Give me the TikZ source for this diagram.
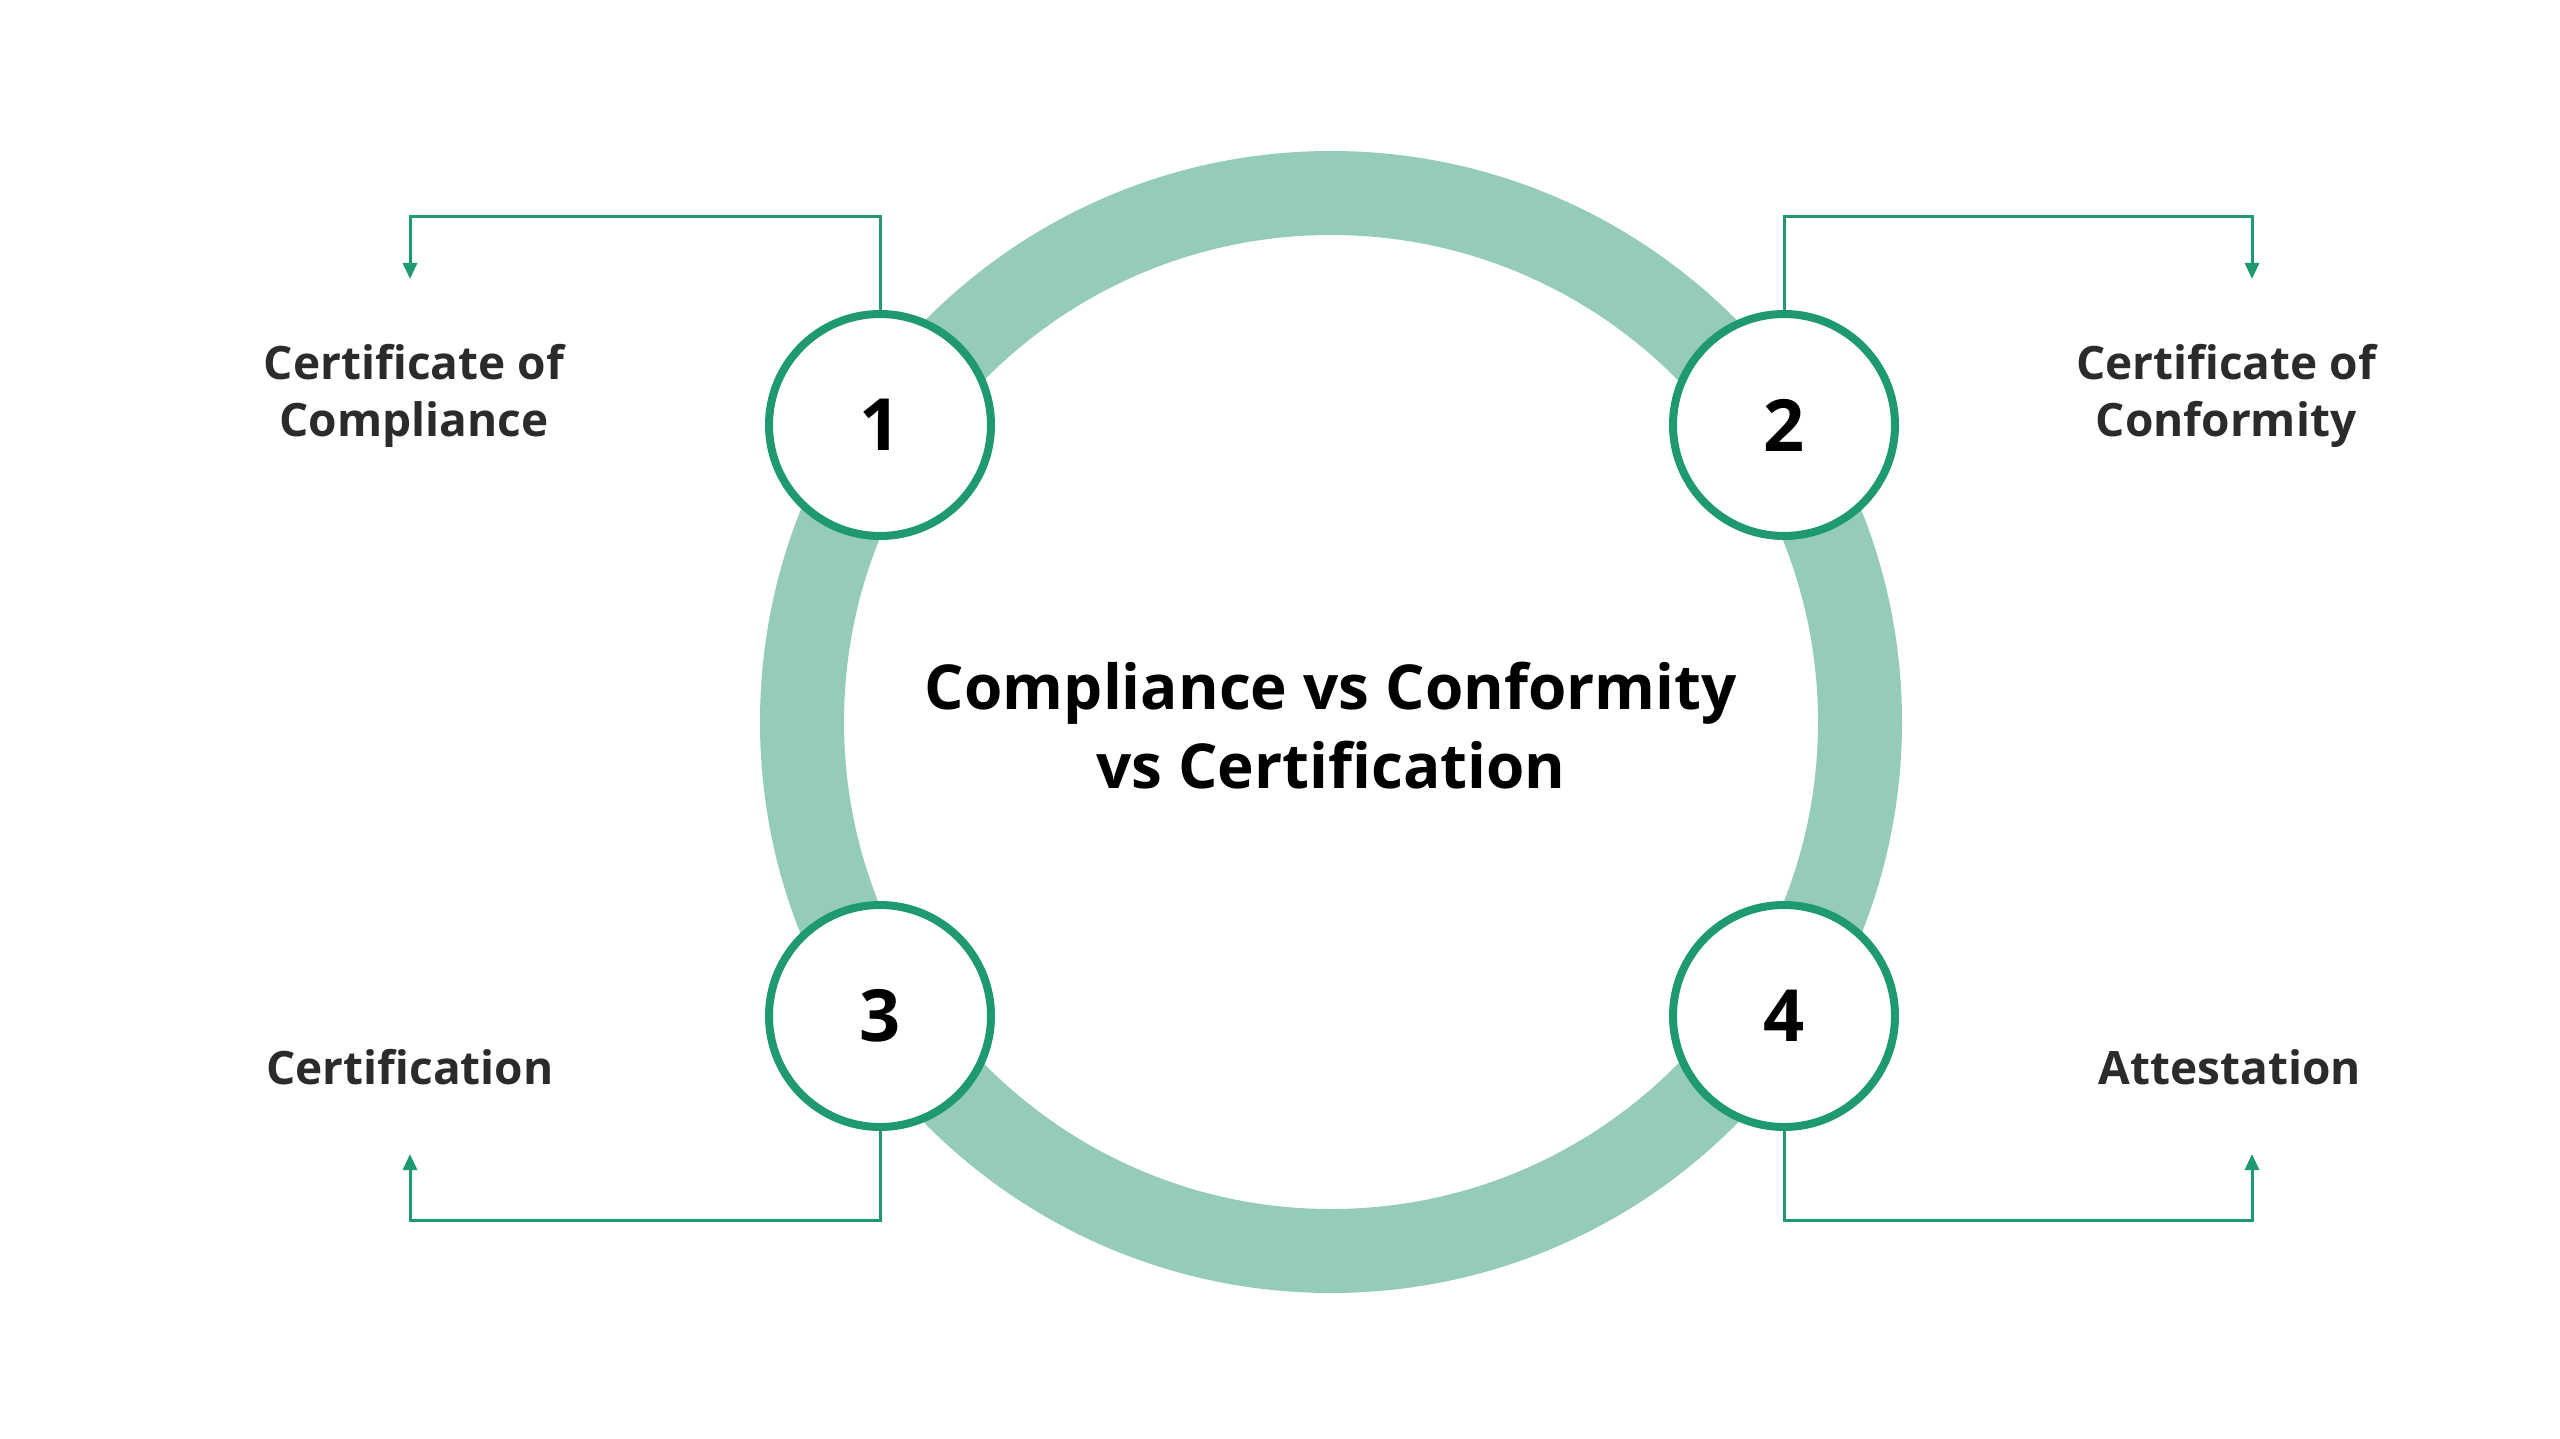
\documentclass[tikz,border=0pt]{standalone}
\usepackage{fontspec}
\setmainfont{Open Sans}
\usetikzlibrary{arrows.meta}
\definecolor{ringc}{HTML}{95CBB9}
\definecolor{grn}{HTML}{1F9A6E}
\definecolor{txt}{HTML}{2B2B2B}
\begin{document}
\begin{tikzpicture}[x=1pt,y=-1pt,
  numc/.style={circle,draw=grn,line width=8pt,fill=white,minimum size=222pt,inner sep=0pt,font=\fontsize{72}{72}\selectfont\bfseries},
  lbl/.style={align=center,text=txt,font=\fontsize{46}{57}\selectfont\bfseries},
  conn/.style={draw=grn,line width=3pt,-{Triangle[length=16pt,width=14pt]}}]
\fill[white] (0,0) rectangle (2560,1439);
\useasboundingbox (0,0) rectangle (2560,1439);
\draw[ringc,line width=84pt] (1331,722) circle (529);
\node[font=\fontsize{62}{79}\selectfont\bfseries,align=center] (t) at (1331,726) {Compliance vs Conformity\\vs Certification};
\node[numc] (n1) at (880,425) {1};
\node[numc] (n2) at (1784,425) {2};
\node[numc] (n3) at (880,1016) {3};
\node[numc] (n4) at (1784,1016) {4};
\coordinate (a1) at (410,279);
\coordinate (a2) at (2252,279);
\coordinate (a3) at (410,1154);
\coordinate (a4) at (2252,1154);
\draw[conn] (n1.north) -- ++(0,-93) -| (a1);
\draw[conn] (n2.north) -- ++(0,-93) -| (a2);
\draw[conn] (n3.south) -- ++(0,89) -| (a3);
\draw[conn] (n4.south) -- ++(0,89) -| (a4);
\node[lbl] (l1) at (414,396) {Certificate of\\Compliance};
\node[lbl] (l2) at (2226,396) {Certificate of\\Conformity};
\node[lbl] (l3) at (410,1067) {Certification};
\node[lbl] (l4) at (2230,1067) {Attestation};
\end{tikzpicture}
\end{document}
